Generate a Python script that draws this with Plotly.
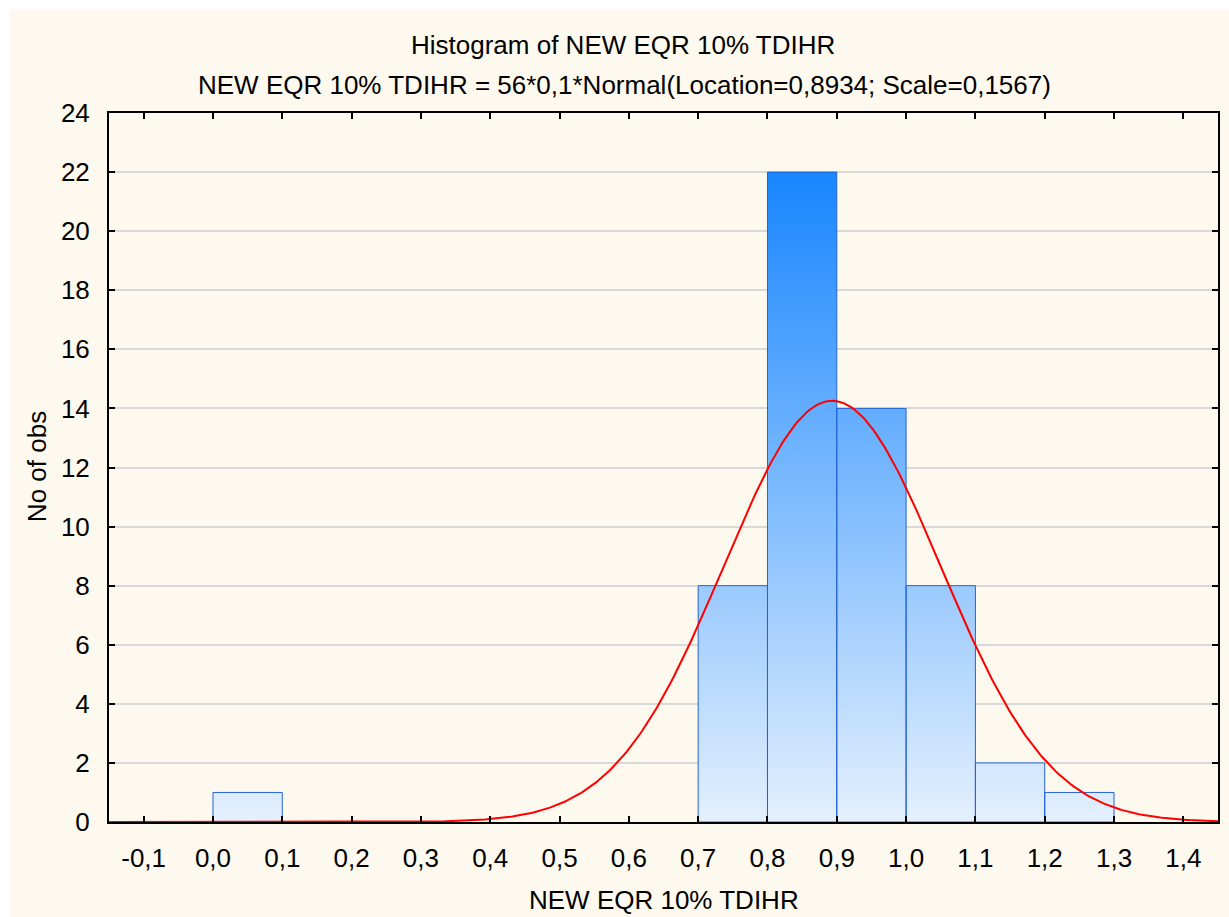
import numpy as np
import plotly.graph_objects as go

# Histogram bins (left edge, right edge) and counts
bin_left = [0.0, 0.7, 0.8, 0.9, 1.0, 1.1, 1.2]
bin_right = [0.1, 0.8, 0.9, 1.0, 1.1, 1.2, 1.3]
counts = [1, 8, 22, 14, 8, 2, 1]

# Fitted normal curve parameters
n_obs = 56
bin_width = 0.1
location = 0.8934
scale = 0.1567

x_ticks = [-0.1, 0.0, 0.1, 0.2, 0.3, 0.4, 0.5, 0.6, 0.7, 0.8, 0.9, 1.0, 1.1, 1.2, 1.3, 1.4]
x_tick_labels = ["-0,1", "0,0", "0,1", "0,2", "0,3", "0,4", "0,5", "0,6", "0,7",
                 "0,8", "0,9", "1,0", "1,1", "1,2", "1,3", "1,4"]
y_ticks = list(range(0, 25, 2))

FONT = "Liberation Sans, Arial, sans-serif"
FS = 26
CREAM = "#FEF9EE"

# bar outlines as closed polygons (None separates them)
bx, by = [], []
for l, r, c in zip(bin_left, bin_right, counts):
    bx += [l, l, r, r, l, None]
    by += [0, c, c, 0, 0, None]

fig = go.Figure()
fig.add_trace(go.Scatter(
    x=bx, y=by, mode="lines", fill="toself",
    line=dict(color="#2463D6", width=1),
    fillgradient=dict(type="vertical",
                      colorscale=[[0, "rgb(228,240,253)"], [1, "rgb(24,134,255)"]],
                      start=0, stop=max(counts)),
    hoverinfo="skip", showlegend=False,
))

xs = np.linspace(-0.15, 1.45, 500)
ys = n_obs * bin_width * np.exp(-0.5 * ((xs - location) / scale) ** 2) / (scale * np.sqrt(2 * np.pi))
fig.add_trace(go.Scatter(x=xs, y=ys, mode="lines", line=dict(color="#FF0000", width=2),
                         hoverinfo="skip", showlegend=False))

L, R, T, B = 109, 9, 113, 95
W, H = 1229, 917
pw, ph = W - L - R, H - T - B

def px_x(p):
    return (p - L) / pw

def px_y(p):
    return (H - B - p) / ph

fig.update_layout(
    width=W, height=H,
    margin=dict(l=L, r=R, t=T, b=B),
    paper_bgcolor="white", plot_bgcolor="white",
    font=dict(family=FONT, size=FS, color="black"),
    shapes=[dict(type="rect", xref="paper", yref="paper",
                 x0=px_x(9), x1=px_x(W + 5), y0=px_y(H + 5), y1=px_y(9),
                 fillcolor=CREAM, line=dict(width=0), layer="below")],
    annotations=[
        dict(text="Histogram of NEW EQR 10% TDIHR", xref="paper", yref="paper",
             x=px_x(624), y=px_y(45), showarrow=False, xanchor="center", yanchor="middle"),
        dict(text="NEW EQR 10% TDIHR = 56*0,1*Normal(Location=0,8934; Scale=0,1567)",
             xref="paper", yref="paper", x=px_x(625), y=px_y(85), showarrow=False,
             xanchor="center", yanchor="middle"),
        dict(text="NEW EQR 10% TDIHR", xref="paper", yref="paper",
             x=px_x(665), y=px_y(900), showarrow=False, xanchor="center", yanchor="middle"),
        dict(text="No of obs", xref="paper", yref="paper", textangle=-90,
             x=px_x(37), y=px_y(467), showarrow=False, xanchor="center", yanchor="middle"),
    ],
)

fig.update_xaxes(range=[-0.15, 1.45], tickvals=x_ticks, ticktext=x_tick_labels,
                 showgrid=False, zeroline=False, showline=True, linecolor="black",
                 linewidth=2, mirror="ticks", ticks="inside", ticklen=6, tickwidth=2,
                 tickcolor="black", ticklabelstandoff=12)
fig.update_yaxes(range=[0, 24], tickvals=y_ticks, showgrid=True, gridcolor="#D9D9D9",
                 gridwidth=1.5, zeroline=False, showline=True, linecolor="black",
                 linewidth=2, mirror="ticks", ticks="inside", ticklen=6, tickwidth=2,
                 tickcolor="black", ticklabelstandoff=12)

fig.write_html("out.html")
